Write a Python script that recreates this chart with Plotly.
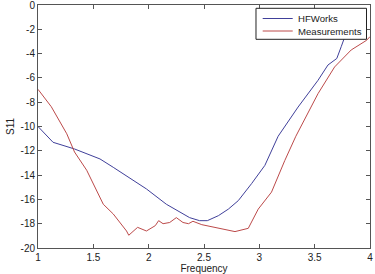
import plotly.graph_objects as go

hf_freq = [1.0, 1.136, 1.33, 1.56, 1.68, 1.77, 1.98, 2.16, 2.37, 2.46, 2.53, 2.63, 2.72, 2.81, 2.93, 3.05, 3.17, 3.35, 3.53, 3.62, 3.70, 3.74, 3.77, 3.82, 3.86]
hf_s11 = [-10.0, -11.3, -11.85, -12.67, -13.36, -13.9, -15.14, -16.4, -17.5, -17.75, -17.75, -17.34, -16.8, -16.1, -14.7, -13.2, -10.8, -8.4, -6.2, -4.94, -4.4, -3.43, -2.7, -1.4, -0.4]

meas_freq = [1.0, 1.12, 1.26, 1.33, 1.44, 1.53, 1.59, 1.68, 1.80, 1.82, 1.90, 1.98, 2.06, 2.09, 2.13, 2.19, 2.25, 2.31, 2.36, 2.40, 2.48, 2.78, 2.90, 2.99, 3.11, 3.23, 3.33, 3.53, 3.68, 3.83, 3.97, 4.0]
meas_s11 = [-6.94, -8.37, -10.6, -12.1, -13.6, -15.3, -16.4, -17.2, -18.6, -18.95, -18.3, -18.6, -18.16, -17.75, -18.0, -17.9, -17.5, -17.9, -18.0, -17.8, -18.08, -18.65, -18.38, -16.8, -15.4, -12.8, -10.8, -7.3, -5.1, -3.7, -2.9, -2.6]

x_ticks = [1, 1.5, 2, 2.5, 3, 3.5, 4]
x_tick_labels = ["1", "1.5", "2", "2.5", "3", "3.5", "4"]
y_ticks = [0, -2, -4, -6, -8, -10, -12, -14, -16, -18, -20]
y_tick_labels = ["0", "-2", "-4", "-6", "-8", "-10", "-12", "-14", "-16", "-18", "-20"]

series_names = ["HFWorks", "Measurements"]
series_colors = ["#40409a", "#bc4a4a"]

fig = go.Figure()
fig.add_trace(go.Scatter(x=hf_freq, y=hf_s11, mode="lines", name=series_names[0],
                         line=dict(color=series_colors[0], width=1)))
fig.add_trace(go.Scatter(x=meas_freq, y=meas_s11, mode="lines", name=series_names[1],
                         line=dict(color=series_colors[1], width=1)))

# compact MATLAB-style legend box (paper coordinates)
leg_x0, leg_x1, leg_y0, leg_y1 = 0.6566, 0.9895, 0.8588, 0.9864
row_y = [0.9444, 0.8930]
fig.add_shape(type="rect", xref="paper", yref="paper", x0=leg_x0, x1=leg_x1, y0=leg_y0, y1=leg_y1,
              line=dict(color="#222222", width=1), fillcolor="white", layer="above")
for name, color, ry in zip(series_names, series_colors, row_y):
    fig.add_shape(type="line", xref="paper", yref="paper", x0=0.6768, x1=0.7672, y0=ry, y1=ry,
                  line=dict(color=color, width=1), layer="above")
    fig.add_annotation(xref="paper", yref="paper", x=0.777, y=ry, text=name, showarrow=False,
                       xanchor="left", yanchor="middle",
                       font=dict(family="Liberation Sans", size=9.6, color="#222222"))

axis_common = dict(showline=True, linecolor="#555555", linewidth=1, mirror="ticks",
                   ticks="inside", ticklen=4, tickcolor="#555555", showgrid=False,
                   zeroline=False, automargin=False, ticklabeloverflow="allow",
                   tickfont=dict(family="Liberation Sans", size=10, color="#222222"))

fig.update_layout(
    template="none",
    width=375, height=274,
    margin=dict(l=38, r=5, t=5, b=26, pad=0),
    paper_bgcolor="white", plot_bgcolor="white",
    font=dict(family="Liberation Sans", size=10, color="#222222"),
    xaxis=dict(range=[1, 4], tickvals=x_ticks, ticktext=x_tick_labels,
               title=dict(text="Frequency", standoff=2, font=dict(size=10)), **axis_common),
    yaxis=dict(range=[-20, 0], tickvals=y_ticks, ticktext=y_tick_labels,
               title=dict(text="S11", standoff=4, font=dict(size=10)), **axis_common),
    showlegend=False,
)

fig.write_html("out.html", config={"displayModeBar": False},
               post_script="document.body.style.margin='0';document.body.style.padding='0';")
